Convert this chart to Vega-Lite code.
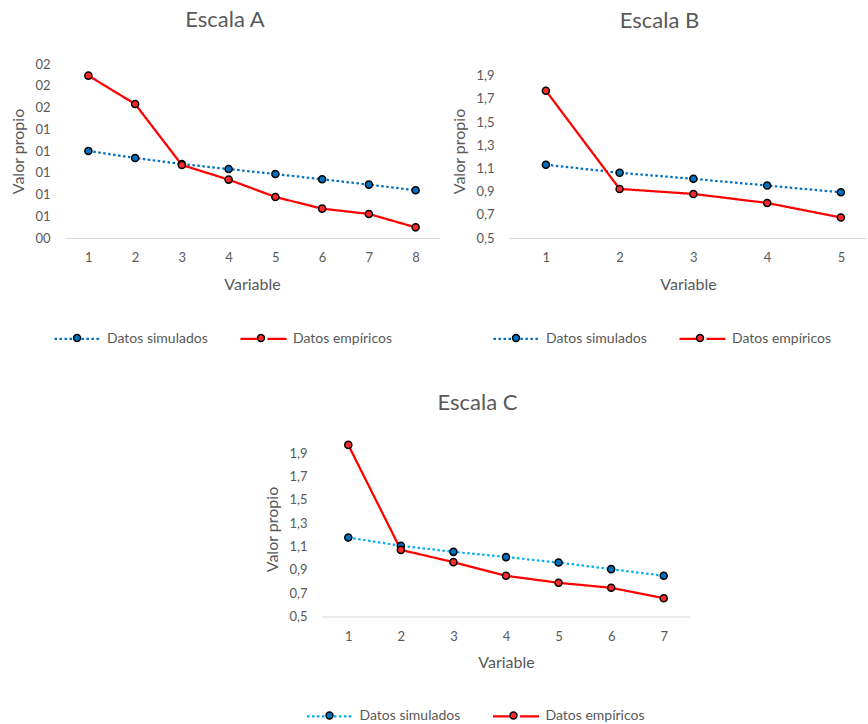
{
  "$schema": "https://vega.github.io/schema/vega-lite/v6.json",
  "padding": {"left": 10, "top": 9, "right": 0, "bottom": 0},
  "config": {
    "font": "Lato",
    "view": {"stroke": null},
    "axis": {
      "labelFont": "Lato", "labelFontSize": 13, "labelColor": "#595959",
      "titleFont": "Lato", "titleFontSize": 16, "titleColor": "#595959", "titleFontWeight": "normal",
      "grid": false, "ticks": false, "tickSize": 0,
      "domainColor": "#D9D9D9", "domainWidth": 1
    },
    "axisX": {"labelPadding": 13.5, "titlePadding": 11.5},
    "axisY": {"domain": false, "labelPadding": 15, "titlePadding": 8},
    "title": {"font": "Lato", "fontSize": 22, "fontWeight": "normal", "color": "#595959", "anchor": "middle", "frame": "bounds", "offset": 26},
    "legend": {"labelFont": "Lato", "labelFontSize": 14, "labelColor": "#595959", "labelOffset": 5, "columnPadding": 28, "padding": 0, "symbolSize": 2116, "orient": "none", "direction": "horizontal"}
  },
  "datasets": {
    "A": [
      {"serie": "Datos simulados", "var": 1, "valor": 1.200},
      {"serie": "Datos simulados", "var": 2, "valor": 1.136},
      {"serie": "Datos simulados", "var": 3, "valor": 1.080},
      {"serie": "Datos simulados", "var": 4, "valor": 1.034},
      {"serie": "Datos simulados", "var": 5, "valor": 0.988},
      {"serie": "Datos simulados", "var": 6, "valor": 0.940},
      {"serie": "Datos simulados", "var": 7, "valor": 0.891},
      {"serie": "Datos simulados", "var": 8, "valor": 0.839},
      {"serie": "Datos empíricos", "var": 1, "valor": 1.893},
      {"serie": "Datos empíricos", "var": 2, "valor": 1.632},
      {"serie": "Datos empíricos", "var": 3, "valor": 1.071},
      {"serie": "Datos empíricos", "var": 4, "valor": 0.937},
      {"serie": "Datos empíricos", "var": 5, "valor": 0.777},
      {"serie": "Datos empíricos", "var": 6, "valor": 0.670},
      {"serie": "Datos empíricos", "var": 7, "valor": 0.621},
      {"serie": "Datos empíricos", "var": 8, "valor": 0.498}
    ],
    "B": [
      {"serie": "Datos simulados", "var": 1, "valor": 1.132},
      {"serie": "Datos simulados", "var": 2, "valor": 1.062},
      {"serie": "Datos simulados", "var": 3, "valor": 1.010},
      {"serie": "Datos simulados", "var": 4, "valor": 0.952},
      {"serie": "Datos simulados", "var": 5, "valor": 0.894},
      {"serie": "Datos empíricos", "var": 1, "valor": 1.770},
      {"serie": "Datos empíricos", "var": 2, "valor": 0.923},
      {"serie": "Datos empíricos", "var": 3, "valor": 0.880},
      {"serie": "Datos empíricos", "var": 4, "valor": 0.802},
      {"serie": "Datos empíricos", "var": 5, "valor": 0.677}
    ],
    "C": [
      {"serie": "Datos simulados", "var": 1, "valor": 1.177},
      {"serie": "Datos simulados", "var": 2, "valor": 1.106},
      {"serie": "Datos simulados", "var": 3, "valor": 1.054},
      {"serie": "Datos simulados", "var": 4, "valor": 1.009},
      {"serie": "Datos simulados", "var": 5, "valor": 0.963},
      {"serie": "Datos simulados", "var": 6, "valor": 0.906},
      {"serie": "Datos simulados", "var": 7, "valor": 0.849},
      {"serie": "Datos empíricos", "var": 1, "valor": 1.971},
      {"serie": "Datos empíricos", "var": 2, "valor": 1.071},
      {"serie": "Datos empíricos", "var": 3, "valor": 0.966},
      {"serie": "Datos empíricos", "var": 4, "valor": 0.849},
      {"serie": "Datos empíricos", "var": 5, "valor": 0.789},
      {"serie": "Datos empíricos", "var": 6, "valor": 0.746},
      {"serie": "Datos empíricos", "var": 7, "valor": 0.657}
    ]
  },
  "resolve": {"scale": {"stroke": "independent", "fill": "independent", "strokeDash": "independent"}, "legend": {"stroke": "independent", "fill": "independent", "strokeDash": "independent"}},
  "spacing": 45.5,
  "vconcat": [
    {
      "spacing": 12,
      "resolve": {"scale": {"stroke": "independent", "fill": "independent", "strokeDash": "independent"}, "legend": {"stroke": "independent", "fill": "independent", "strokeDash": "independent"}},
      "hconcat": [
        {
          "width": 374, "height": 174,
          "data": {"name": "A"},
          "title": {"text": "Escala A"},
          "encoding": {
            "x": {"field": "var", "type": "quantitative", "scale": {"domain": [0.5, 8.5], "nice": false, "zero": false}, "axis": {"values": [1, 2, 3, 4, 5, 6, 7, 8], "format": "d", "title": "Variable"}},
            "y": {"field": "valor", "type": "quantitative", "scale": {"domain": [0.4, 2.0], "nice": false, "zero": false}, "axis": {"values": [0.4, 0.6, 0.8, 1.0, 1.2, 1.4, 1.6, 1.8, 2.0], "format": "02.0f", "title": "Valor propio"}}
          },
          "layer": [
            {
              "mark": {"type": "line", "strokeWidth": 2.25},
              "encoding": {
                "stroke": {"field": "serie", "type": "nominal", "scale": {"domain": ["Datos simulados", "Datos empíricos"], "range": ["#0070C0", "#FF0000"]},
                  "legend": {"title": null, "legendX": -12, "legendY": 250, "symbolType": "M-1,0L-0.17,0M0.17,0L1,0", "symbolStrokeWidth": 2.25}},
                "strokeDash": {"field": "serie", "type": "nominal", "scale": {"domain": ["Datos simulados", "Datos empíricos"], "range": [[2.5, 2.5], [1, 0]]},
                  "legend": {"title": null, "legendX": -12, "legendY": 250, "symbolType": "M-1,0L-0.17,0M0.17,0L1,0", "symbolStrokeWidth": 2.25}}
              }
            },
            {
              "mark": {"type": "point", "filled": true, "size": 50, "stroke": "black", "strokeWidth": 1.5, "opacity": 1},
              "encoding": {
                "fill": {"field": "serie", "type": "nominal", "sort": "descending", "scale": {"range": ["#0070C0", "#FF2A2A"]},
                  "legend": {"title": null, "legendX": -12, "legendY": 250, "labelExpr": "''", "columnPadding": 131, "symbolType": "M0.15,0A0.15,0.15,0,1,1,-0.15,0A0.15,0.15,0,1,1,0.15,0Z", "symbolStrokeColor": "black", "symbolStrokeWidth": 1.5, "symbolOpacity": 1}}
              }
            }
          ]
        },
        {
          "width": 358, "height": 174,
          "data": {"name": "B"},
          "title": {"text": "Escala B", "offset": 31},
          "encoding": {
            "x": {"field": "var", "type": "quantitative", "scale": {"domain": [0.5, 5.354], "nice": false, "zero": false}, "axis": {"values": [1, 2, 3, 4, 5], "format": "d", "title": "Variable"}},
            "y": {"field": "valor", "type": "quantitative", "scale": {"domain": [0.5, 2.0], "nice": false, "zero": false}, "axis": {"values": [0.5, 0.7, 0.9, 1.1, 1.3, 1.5, 1.7, 1.9], "labelExpr": "replace(format(datum.value, '.1f'), '.', ',')", "title": "Valor propio"}}
          },
          "layer": [
            {
              "mark": {"type": "line", "strokeWidth": 2.25},
              "encoding": {
                "stroke": {"field": "serie", "type": "nominal", "scale": {"domain": ["Datos simulados", "Datos empíricos"], "range": ["#0070C0", "#FF0000"]},
                  "legend": {"title": null, "legendX": -17, "legendY": 250, "symbolType": "M-1,0L-0.17,0M0.17,0L1,0", "symbolStrokeWidth": 2.25}},
                "strokeDash": {"field": "serie", "type": "nominal", "scale": {"domain": ["Datos simulados", "Datos empíricos"], "range": [[2.5, 2.5], [1, 0]]},
                  "legend": {"title": null, "legendX": -17, "legendY": 250, "symbolType": "M-1,0L-0.17,0M0.17,0L1,0", "symbolStrokeWidth": 2.25}}
              }
            },
            {
              "mark": {"type": "point", "filled": true, "size": 50, "stroke": "black", "strokeWidth": 1.5, "opacity": 1},
              "encoding": {
                "fill": {"field": "serie", "type": "nominal", "sort": "descending", "scale": {"range": ["#0070C0", "#FF2A2A"]},
                  "legend": {"title": null, "legendX": -17, "legendY": 250, "labelExpr": "''", "columnPadding": 131, "symbolType": "M0.15,0A0.15,0.15,0,1,1,-0.15,0A0.15,0.15,0,1,1,0.15,0Z", "symbolStrokeColor": "black", "symbolStrokeWidth": 1.5, "symbolOpacity": 1}}
              }
            }
          ]
        }
      ]
    },
    {
      "spacing": 0,
      "resolve": {"scale": {"stroke": "independent", "fill": "independent", "strokeDash": "independent"}, "legend": {"stroke": "independent", "fill": "independent", "strokeDash": "independent"}},
      "hconcat": [
        {"width": 198.5, "height": 10, "data": {"values": []}, "mark": "point", "encoding": {}},
        {
          "width": 368, "height": 175,
          "data": {"name": "C"},
          "title": {"text": "Escala C", "offset": 23},
          "encoding": {
            "x": {"field": "var", "type": "quantitative", "scale": {"domain": [0.5, 7.5], "nice": false, "zero": false}, "axis": {"values": [1, 2, 3, 4, 5, 6, 7], "format": "d", "title": "Variable"}},
            "y": {"field": "valor", "type": "quantitative", "scale": {"domain": [0.5, 2.0], "nice": false, "zero": false}, "axis": {"values": [0.5, 0.7, 0.9, 1.1, 1.3, 1.5, 1.7, 1.9], "labelExpr": "replace(format(datum.value, '.1f'), '.', ',')", "title": "Valor propio"}}
          },
          "layer": [
            {
              "mark": {"type": "line", "strokeWidth": 2.25},
              "encoding": {
                "stroke": {"field": "serie", "type": "nominal", "scale": {"domain": ["Datos simulados", "Datos empíricos"], "range": ["#00B0F0", "#FF0000"]},
                  "legend": {"title": null, "legendX": -16.5, "legendY": 250, "symbolType": "M-1,0L-0.17,0M0.17,0L1,0", "symbolStrokeWidth": 2.25}},
                "strokeDash": {"field": "serie", "type": "nominal", "scale": {"domain": ["Datos simulados", "Datos empíricos"], "range": [[2.5, 2.5], [1, 0]]},
                  "legend": {"title": null, "legendX": -16.5, "legendY": 250, "symbolType": "M-1,0L-0.17,0M0.17,0L1,0", "symbolStrokeWidth": 2.25}}
              }
            },
            {
              "mark": {"type": "point", "filled": true, "size": 50, "stroke": "black", "strokeWidth": 1.5, "opacity": 1},
              "encoding": {
                "fill": {"field": "serie", "type": "nominal", "sort": "descending", "scale": {"range": ["#0070C0", "#FF2A2A"]},
                  "legend": {"title": null, "legendX": -16.5, "legendY": 250, "labelExpr": "''", "columnPadding": 131, "symbolType": "M0.15,0A0.15,0.15,0,1,1,-0.15,0A0.15,0.15,0,1,1,0.15,0Z", "symbolStrokeColor": "black", "symbolStrokeWidth": 1.5, "symbolOpacity": 1}}
              }
            }
          ]
        }
      ]
    }
  ]
}
